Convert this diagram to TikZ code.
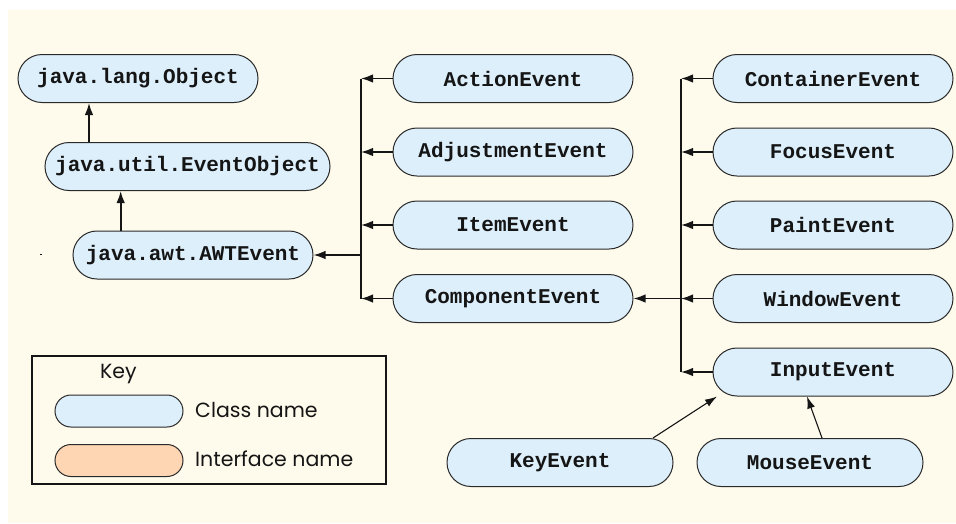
\documentclass[tikz,border=0pt]{standalone}
\usepackage{fontspec}
\setmainfont{Poppins}
\newfontfamily\monob{Liberation Mono}
\usetikzlibrary{shapes.misc,arrows.meta}
\definecolor{bgcream}{HTML}{FEFAEC}
\definecolor{classfill}{HTML}{DCEFFB}
\definecolor{ifacefill}{HTML}{FFD6B4}
\definecolor{edgegray}{HTML}{2A2A2A}
\definecolor{inkdark}{HTML}{151515}
\tikzset{
  pill/.style={rounded rectangle, draw=edgegray, line width=1pt, fill=classfill,
    minimum height=48pt, minimum width=240pt, inner sep=0pt,
    font=\monob\bfseries\fontsize{21}{25}\selectfont, text=inkdark},
  conn/.style={draw=inkdark, line width=1.6pt},
  arr/.style={conn, -{Latex[length=12pt,width=8.5pt]}},
  thinarr/.style={draw=inkdark, line width=1.1pt, -{Latex[length=12pt,width=8pt]}},
  keytext/.style={font=\fontsize{20.5}{23}\selectfont, text=inkdark, anchor=west, inner sep=0pt},
}
\begin{document}
\begin{tikzpicture}[x=1pt,y=-1pt]
\useasboundingbox (0,0) rectangle (956,523);
\fill[bgcream] (8,10) rectangle (956,523);
\fill[inkdark] (40,253.6) rectangle (42,254.6);

% left column
\node[pill] (obj) at (138,78.5) {java.lang.Object};
\node[pill, minimum width=285pt] (evo) at (187.5,166.5) {java.util.EventObject};
\node[pill] (awt) at (193,255) {java.awt.AWTEvent};

% middle column
\node[pill] (act) at (513,78.5) {ActionEvent};
\node[pill] (adj) at (513,152) {AdjustmentEvent};
\node[pill] (itm) at (513,225) {ItemEvent};
\node[pill] (cmp) at (513,298.5) {ComponentEvent};

% right column
\node[pill] (cnt) at (833,78.5) {ContainerEvent};
\node[pill] (foc) at (833,152) {FocusEvent};
\node[pill] (pnt) at (833,225) {PaintEvent};
\node[pill] (win) at (833,298.5) {WindowEvent};
\node[pill] (inp) at (833,372) {InputEvent};

% bottom
\node[pill, minimum width=226pt] (key) at (560,462.5) {KeyEvent};
\node[pill, minimum width=226pt] (mou) at (810,462.5) {MouseEvent};

% trunks
\coordinate (ta) at (361,0);
\coordinate (tb) at (681,0);

\draw[arr] ([xshift=-98.5pt]evo.north) -- ([xshift=-49pt]obj.south);
\draw[arr] ([xshift=-72.3pt]awt.north) -- ([xshift=-66.8pt]evo.south);

\draw[conn] (act.west -| ta) -- (cmp.west -| ta);
\foreach \n in {act,adj,itm,cmp} \draw[arr] (\n.west) -- (\n.west -| ta);
\draw[arr] (awt.east -| ta) -- (awt.east);

\draw[conn] (cnt.west -| tb) -- (inp.west -| tb);
\foreach \n in {cnt,foc,pnt,win,inp} \draw[arr] (\n.west) -- (\n.west -| tb);
\draw[arr] (win.west -| tb) -- (cmp.east);

\draw[thinarr] ([xshift=93pt]key.north) -- ([xshift=-116pt]inp.south);
\draw[thinarr] ([xshift=12pt]mou.north) -- ([xshift=-26pt]inp.south);

% legend
\node[draw=inkdark, line width=2pt, minimum width=354pt, minimum height=128pt, inner sep=0pt] (legend) at (209,420) {};
\node[keytext] (keylbl) at (100,374) {Key};
\node[pill, minimum width=128pt, minimum height=32pt] (lclass) at (119,411) {};
\node[pill, minimum width=128pt, minimum height=32pt, fill=ifacefill] (liface) at (119,460.5) {};
\node[keytext] (lclasst) at (195,410) {Class name};
\node[keytext] (lifacet) at (195,459) {Interface name};
\end{tikzpicture}
\end{document}
